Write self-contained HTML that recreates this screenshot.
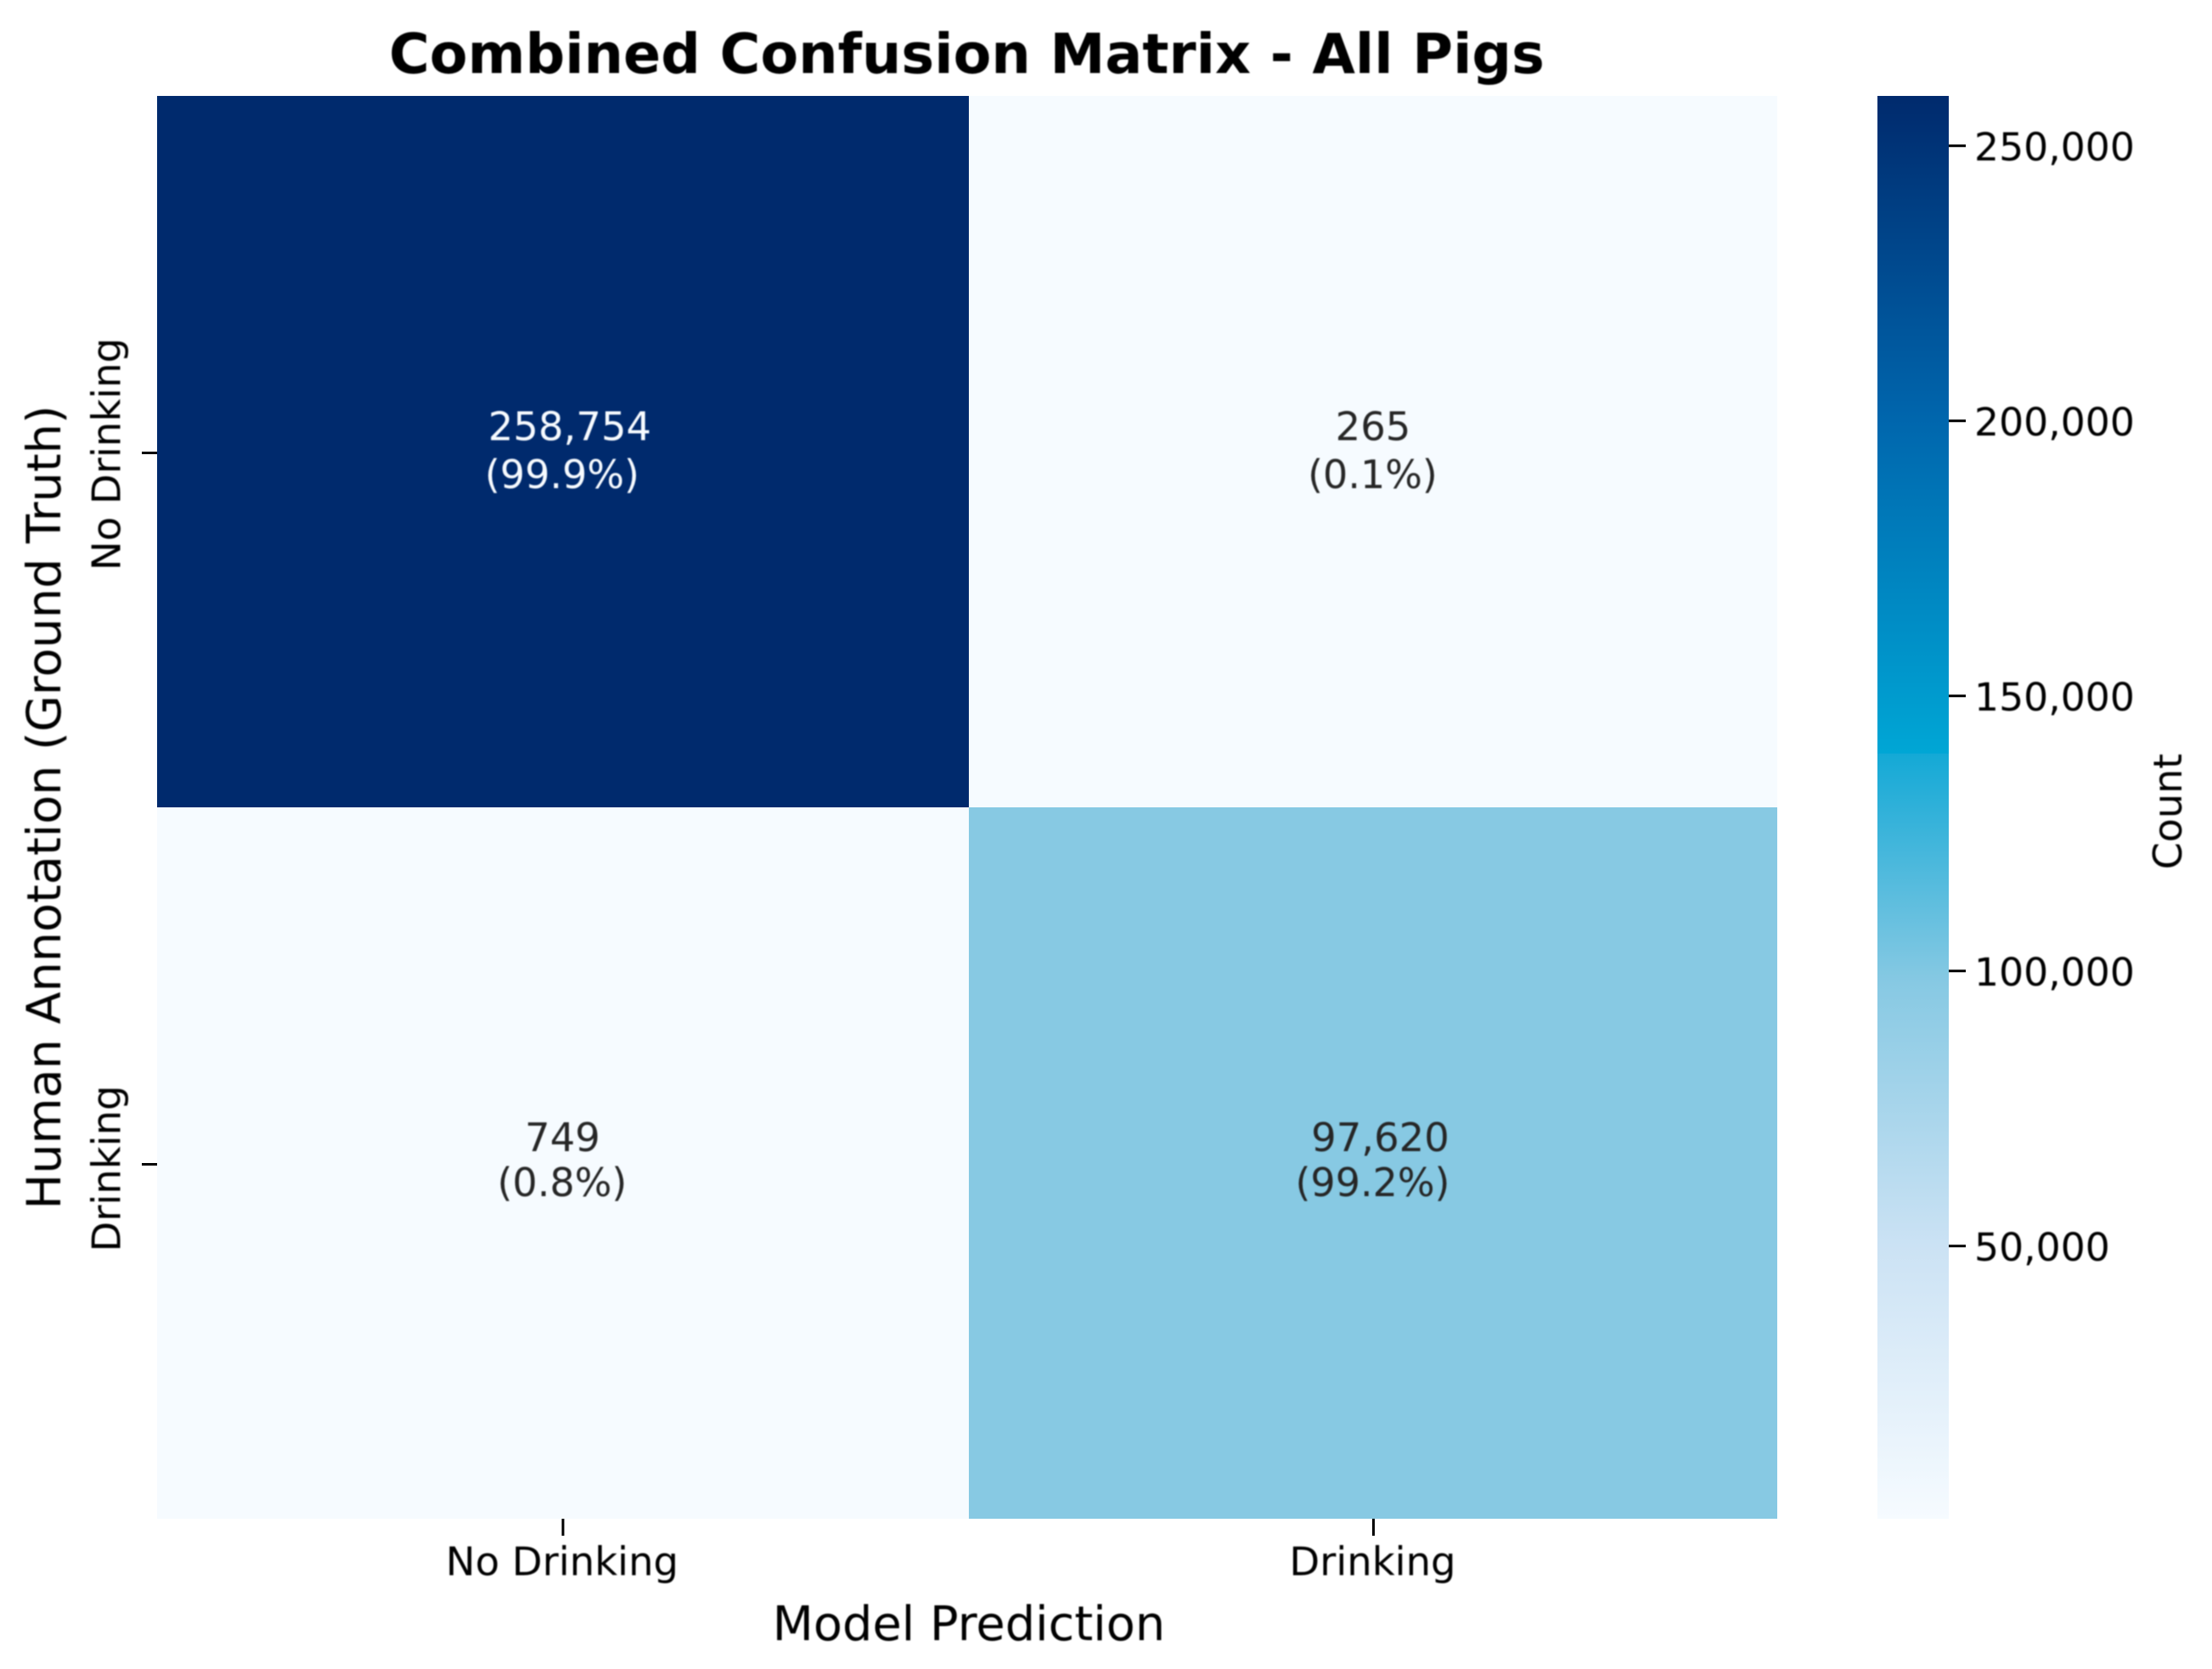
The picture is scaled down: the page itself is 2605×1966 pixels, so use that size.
<!DOCTYPE html>
<html lang="en">
<head>
<meta charset="utf-8">
<title>Combined Confusion Matrix - All Pigs</title>
<style>
html,body{margin:0;padding:0;background:#fff;width:2605px;height:1966px;overflow:hidden}
svg{display:block}
text{font-family:"DejaVu Sans","Liberation Sans",sans-serif;filter:blur(0.9px)}
</style>
</head>
<body>
<svg id="chart" xmlns="http://www.w3.org/2000/svg" width="2605" height="1966" viewBox="0 0 2605 1966">
  <rect x="0" y="0" width="2605" height="1966" fill="#ffffff"/>
  <defs>
    <linearGradient id="cbar-gradient" x1="0" y1="1" x2="0" y2="0"></linearGradient>
  </defs>
  <text x="1138.5" y="86" font-size="65.2" font-weight="700" text-anchor="middle" fill="#000">Combined Confusion Matrix - All Pigs</text>
  <text x="1141" y="1932" font-size="55.8" text-anchor="middle" fill="#000">Model Prediction</text>
  <text x="71" y="951" font-size="55.6" text-anchor="middle" fill="#000" transform="rotate(-90 71 951)">Human Annotation (Ground Truth)</text>
  <text x="2569" y="956" font-size="46" text-anchor="middle" fill="#000" transform="rotate(-90 2569 956)">Count</text>
  <g id="heatmap"></g>
  <g id="x-axis"></g>
  <g id="y-axis"></g>
  <g id="colorbar"></g>
</svg>
<script>
const categories = ['No Drinking', 'Drinking'];
const row0Counts = [258754, 265];
const row1Counts = [749, 97620];
const colorbarTicks = [50000, 100000, 150000, 200000, 250000];
const colormapPositions = [0, 0.1924, 0.3766, 0.5374, 0.5382, 0.7727, 1];
const colormapColors = ['#f6fbff', '#cbe2f4', '#87c9e3', '#14a9d6', '#00a6d5', '#0066ad', '#002a6d'];

const NS = 'http://www.w3.org/2000/svg';
const rows = [row0Counts, row1Counts];
const allCounts = rows.flat();
const vMin = Math.min.apply(null, allCounts);
const vMax = Math.max.apply(null, allCounts);

const plot = { left: 185, mid: 1141, right: 2093, top: 113, midY: 951, bottom: 1789 };
const bar = { left: 2211, right: 2295, top: 113, bottom: 1789 };

function make(tag, attrs) {
  const el = document.createElementNS(NS, tag);
  Object.keys(attrs).forEach(function (k) { el.setAttribute(k, attrs[k]); });
  return el;
}
function hexToRgb(h) {
  return [parseInt(h.slice(1, 3), 16), parseInt(h.slice(3, 5), 16), parseInt(h.slice(5, 7), 16)];
}
function colormap(t) {
  t = Math.max(0, Math.min(1, t));
  for (let i = 1; i < colormapPositions.length; i++) {
    if (t <= colormapPositions[i]) {
      const a = colormapPositions[i - 1], b = colormapPositions[i];
      const f = (t - a) / (b - a);
      const ca = hexToRgb(colormapColors[i - 1]), cb = hexToRgb(colormapColors[i]);
      return [0, 1, 2].map(function (c) { return Math.round(ca[c] + (cb[c] - ca[c]) * f); });
    }
  }
  return hexToRgb(colormapColors[colormapColors.length - 1]);
}
function norm(v) { return (v - vMin) / (vMax - vMin); }
function colorY(v) { return 115 + (vMax - v) / (vMax - vMin) * 1675; }
function fmt(v) { return v.toLocaleString('en-US'); }
function cellX(c) { return c === 0 ? plot.left : plot.mid; }
function cellW(c) { return c === 0 ? plot.mid - plot.left : plot.right - plot.mid; }
function cellY(r) { return r === 0 ? plot.top : plot.midY; }
function cellH(r) { return r === 0 ? plot.midY - plot.top : plot.bottom - plot.midY; }
function xCenter(c) { return c === 0 ? 663 : 1617.5; }
function yCenter(r) { return r === 0 ? 533.5 : 1371.5; }

const heatmap = document.getElementById('heatmap');
rows.forEach(function (row, r) {
  const rowTotal = row.reduce(function (a, b) { return a + b; }, 0);
  row.forEach(function (v, c) {
    const rgb = colormap(norm(v));
    const cell = make('rect', { x: cellX(c), y: cellY(r), width: cellW(c), height: cellH(r), fill: 'rgb(' + rgb.join(',') + ')' });
    
    
    heatmap.appendChild(cell);

    const lum = 0.299 * rgb[0] + 0.587 * rgb[1] + 0.114 * rgb[2];
    const ink = lum < 128 ? '#f7fbff' : '#262626';
    const countLabel = fmt(v);
    const cx = xCenter(c);
    const cy = r === 0 ? 532.5 : 1370;

    const countText = make('text', { x: cx + (countLabel.indexOf(',') >= 0 ? 8 : -0.5), y: cy - 14, 'font-size': 46.5, 'text-anchor': 'middle', fill: ink });
    
    
    countText.textContent = countLabel;
    heatmap.appendChild(countText);

    const pctText = make('text', { x: cx - 1, y: cy + (r === 0 ? 42.5 : 39), 'font-size': 46, 'text-anchor': 'middle', fill: ink });
    
    
    pctText.textContent = '(' + (v / rowTotal * 100).toFixed(1) + '%)';
    heatmap.appendChild(pctText);
  });
});

const xAxis = document.getElementById('x-axis');
const yAxis = document.getElementById('y-axis');
categories.forEach(function (name, i) {
  const xt = make('line', { x1: xCenter(i), x2: xCenter(i), y1: plot.bottom, y2: plot.bottom + 20, stroke: '#000', 'stroke-width': 3 });
  
  
  xAxis.appendChild(xt);

  const xl = make('text', { x: xCenter(i) - 1, y: 1855.5, 'font-size': 46.5, 'text-anchor': 'middle', fill: '#000' });
  
  
  xl.textContent = name;
  xAxis.appendChild(xl);

  const yt = make('line', { x1: plot.left - 18, x2: plot.left, y1: yCenter(i), y2: yCenter(i), stroke: '#000', 'stroke-width': 3 });
  
  
  yAxis.appendChild(yt);

  const ly = yCenter(i) + (i === 0 ? 1.5 : 5);
  const yl = make('text', { x: 141.5, y: ly, 'font-size': 46.5, 'text-anchor': 'middle', fill: '#000', transform: 'rotate(-90 141.5 ' + ly + ')' });
  
  
  yl.textContent = name;
  yAxis.appendChild(yl);
});

const gradient = document.getElementById('cbar-gradient');
colormapPositions.forEach(function (p, i) {
  const s = make('stop', { offset: p, 'stop-color': colormapColors[i] });
  gradient.appendChild(s);
});

const colorbar = document.getElementById('colorbar');
const barRect = make('rect', { x: bar.left, y: bar.top, width: bar.right - bar.left, height: bar.bottom - bar.top, fill: 'url(#cbar-gradient)' });


colorbar.appendChild(barRect);

colorbarTicks.forEach(function (v) {
  const y = colorY(v);
  const t = make('line', { x1: bar.right, x2: bar.right + 20, y1: y, y2: y, stroke: '#000', 'stroke-width': 3 });
  
  
  colorbar.appendChild(t);

  const l = make('text', { x: 2325, y: y + 17.5, 'font-size': 45.7, fill: '#000' });
  
  
  l.textContent = fmt(v);
  colorbar.appendChild(l);
});
</script>
</body>
</html>
